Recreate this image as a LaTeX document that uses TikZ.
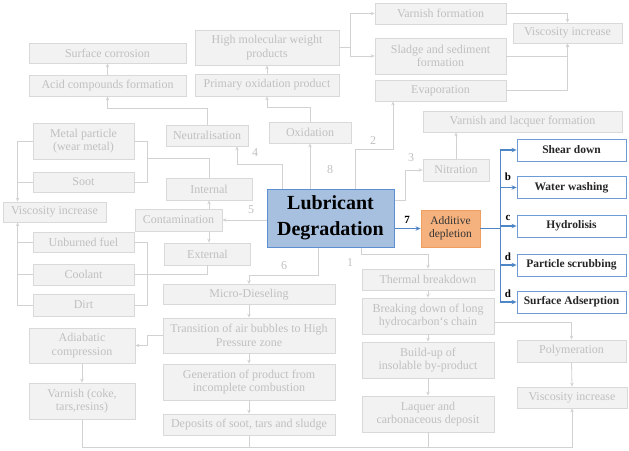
\documentclass[tikz,border=0pt]{standalone}
\usepackage{fontspec}
\setmainfont{LiberationSerif}[Extension=.ttf,UprightFont=*-Regular,BoldFont=*-Bold,ItalicFont=*-Italic,BoldItalicFont=*-BoldItalic]
\usetikzlibrary{arrows.meta}
\definecolor{gfill}{HTML}{F2F2F2}
\definecolor{gdraw}{HTML}{D9D9D9}
\definecolor{gtext}{HTML}{C0C0C0}
\definecolor{lgrey}{HTML}{D2D2D2}
\definecolor{mainfill}{HTML}{A7C0E0}
\definecolor{maindraw}{HTML}{5B8FD0}
\definecolor{addfill}{HTML}{F5B27F}
\definecolor{adddraw}{HTML}{EE9E5E}
\definecolor{bblue}{HTML}{6E9BD3}
\definecolor{ablue}{HTML}{4F86C6}
\begin{document}
\begin{tikzpicture}[x=1pt,y=-1pt,
  gbox/.style={draw=gdraw,fill=gfill,text=gtext,align=center,inner sep=1pt,line width=0.8pt,font=\fontsize{12}{13.5}\selectfont},
  bbox/.style={draw=bblue,fill=white,text=black!85,align=center,inner sep=1pt,line width=0.9pt,minimum width=109,minimum height=22,font=\fontsize{11.5}{13}\selectfont\bfseries},
  gline/.style={draw=lgrey,line width=0.8pt},
  garrow/.style={gline,-{Stealth[length=4pt,width=3.5pt]}},
  barrow/.style={draw=ablue,line width=1.3pt,-{Stealth[length=5pt,width=4.5pt]}},
  glabel/.style={text=gtext,font=\fontsize{12}{13}\selectfont},
  blabel/.style={text=black,font=\fontsize{11}{12}\selectfont\bfseries}]
\useasboundingbox (0,0) rectangle (629,450);
\node[gbox,minimum width=157,minimum height=20] (surf) at (107.5,53) {Surface corrosion};
\node[gbox,minimum width=157,minimum height=21] (acid) at (107.5,85.5) {Acid compounds formation};
\node[gbox,minimum width=144,minimum height=35] (hmw) at (267,47.5) {High molecular weight\\products};
\node[gbox,minimum width=144,minimum height=22] (prim) at (267,85) {Primary oxidation product};
\node[gbox,minimum width=82,minimum height=21] (neu) at (207,135.5) {Neutralisation};
\node[gbox,minimum width=82,minimum height=21] (oxi) at (310,132.5) {Oxidation};
\node[gbox,minimum width=131,minimum height=21] (varf) at (440.5,13.5) {Varnish formation};
\node[gbox,minimum width=131,minimum height=36] (sludge) at (440.5,56) {Sladge and sediment\\formation};
\node[gbox,minimum width=131,minimum height=21] (evap) at (440.5,90.5) {Evaporation};
\node[gbox,minimum width=109,minimum height=20] (visc1) at (567.5,33) {Viscosity increase};
\node[gbox,minimum width=199,minimum height=21] (vlf) at (522.5,121.5) {Varnish and lacquer formation};
\node[gbox,minimum width=66,minimum height=22] (nitr) at (456,170) {Nitration};
\node[draw=maindraw,fill=mainfill,line width=1pt,align=center,inner sep=1pt,minimum width=127,minimum height=58,font=\fontsize{20}{26}\selectfont\bfseries] (main) at (330.5,218) {Lubricant\\Degradation};
\node[draw=adddraw,fill=addfill,line width=0.9pt,align=center,inner sep=1pt,minimum width=59,minimum height=37,text=black!80,font=\fontsize{11.5}{13}\selectfont] (add) at (450.5,228.5) {Additive\\depletion};
\node[bbox] (shear) at (571.5,150) {Shear down};
\node[bbox] (wash) at (571.5,187.5) {Water washing};
\node[bbox] (hydro) at (571.5,226) {Hydrolisis};
\node[bbox] (scrub) at (571.5,265) {Particle scrubbing};
\node[bbox] (adsorp) at (571.5,302) {Surface Adserption};
\node[gbox,minimum width=101,minimum height=36] (metal) at (83.5,141) {Metal particle\\(wear metal)};
\node[gbox,minimum width=101,minimum height=20] (soot) at (83.5,182) {Soot};
\node[gbox,minimum width=103,minimum height=20] (visc2) at (54.5,212) {Viscosity increase};
\node[gbox,minimum width=101,minimum height=20] (unb) at (83.5,242) {Unburned fuel};
\node[gbox,minimum width=101,minimum height=21] (cool) at (83.5,274.5) {Coolant};
\node[gbox,minimum width=101,minimum height=22] (dirt) at (83.5,305) {Dirt};
\node[gbox,minimum width=86,minimum height=22] (int) at (209,189) {Internal};
\node[gbox,minimum width=87,minimum height=22] (cont) at (178.5,220) {Contamination};
\node[gbox,minimum width=86,minimum height=22] (ext) at (207.5,254) {External};
\node[gbox,minimum width=172,minimum height=20] (micro) at (249,294.5) {Micro-Dieseling};
\node[gbox,minimum width=172,minimum height=35] (trans) at (249,335.5) {Transition of air bubbles to High\\Pressure zone};
\node[gbox,minimum width=172,minimum height=36] (gen) at (249,382) {Generation of product from\\incomplete combustion};
\node[gbox,minimum width=172,minimum height=21] (dep) at (249,424.5) {Deposits of soot, tars and sludge};
\node[gbox,minimum width=106,minimum height=35] (adia) at (82,345.5) {Adiabatic\\compression};
\node[gbox,minimum width=106,minimum height=36] (varn) at (82,401) {Varnish (coke,\\tars,resins)};
\node[gbox,minimum width=132,minimum height=21] (therm) at (428,279.5) {Thermal breakdown};
\node[gbox,minimum width=132,minimum height=36] (brk) at (428,316) {Breaking down of long\\hydrocarbon`s chain};
\node[gbox,minimum width=132,minimum height=36] (build) at (428,360) {Build-up of\\insolable by-product};
\node[gbox,minimum width=132,minimum height=36] (laq) at (428,414) {Laquer and\\carbonaceous deposit};
\node[gbox,minimum width=109,minimum height=22] (poly) at (571.5,351) {Polymeration};
\node[gbox,minimum width=110,minimum height=21] (visc3) at (572,397.5) {Viscosity increase};
\draw[garrow] (neu.north) -- ++(0,-16.5) -| (acid.south);
\draw[garrow] (acid.north) -- (surf.south);
\draw[garrow] (prim.north) -- (hmw.south);
\draw[garrow] (oxi.north) -- ++(0,-14) -| (prim.south);
\draw[garrow] (hmw.east) -- ++(11,0) |- (varf.west);
\draw[garrow] (hmw.east) -- ++(11,0) |- (sludge.west);
\draw[garrow] (varf.east) -| (visc1.north);
\draw[garrow] (sludge.east) -| (visc1.south);
\draw[garrow] (evap.east) -| (visc1.south);
\draw[garrow] (nitr.north) -- (nitr.north |- vlf.south);
\draw[garrow] ([xshift=16]main.north west) -- ++(0,-24) -| ([xshift=30]neu.south);
\draw[garrow] (oxi.south |- main.north) -- (oxi.south);
\draw[garrow] ([xshift=24.5]main.north) -- ++(0,-39) -| ([xshift=-47.5]evap.south);
\draw[garrow] ([yshift=18]main.east) -- ++(11,0) |- (nitr.west);
\draw[garrow] (main.west |- cont.east) -- (cont.east);
\draw[garrow] ([xshift=30.5]main.south) -- ++(0,7) -| (therm.north);
\draw[garrow] ([xshift=-12.5]main.south) -- ++(0,28) -| (micro.north);
\draw[barrow] (main.east |- add.west) -- (add.west);
\foreach \t in {shear,wash,hydro,scrub,adsorp}
  \draw[barrow] (add.east) -- ++(20,0) |- (\t.west);
\draw[garrow] ([xshift=30.5]cont.north) -- ([xshift=30.5]cont.north |- int.south);
\draw[garrow] ([xshift=30.5]cont.south) -- ([xshift=30.5]cont.south |- ext.north);
\draw[gline] (int.north) -- ++(0,-19) -| ([xshift=13]soot.east);
\draw[gline] (metal.east) -| ([xshift=13]soot.east) -- (soot.east);
\draw[gline] (ext.south) |- (cool.east);
\draw[gline] (unb.east) -| ([xshift=13]dirt.east) -- (dirt.east);
\draw[gline] (metal.west) -- ++(-15,0) |- (soot.west);
\draw[garrow] ([xshift=-15]soot.west) -- ([xshift=-15]soot.west |- visc2.north);
\draw[gline] (dirt.west) -- ++(-15,0) |- (unb.west);
\draw[gline] (cool.west) -- ++(-15,0);
\draw[garrow] ([xshift=-15]unb.west) -- ([xshift=-15]unb.west |- visc2.south);
\draw[garrow] (micro.south) -- (trans.north);
\draw[garrow] (trans.south) -- (gen.north);
\draw[garrow] (gen.south) -- (dep.north);
\draw[garrow] (trans.west) -- ++(-15,0) |- (adia.east);
\draw[garrow] (adia.south) -- (varn.north);
\draw[garrow] (varn.south) -- ++(0,28) -| (visc3.south);
\draw[gline] (dep.south) -- ++(0,12.5);
\draw[gline] (laq.south) -- ++(0,15);
\draw[garrow] (therm.south) -- (brk.north);
\draw[garrow] (brk.south) -- (build.north);
\draw[garrow] (build.south) -- (laq.north);
\draw[garrow] ([yshift=-6]brk.east) -| (poly.north);
\draw[garrow] (poly.south) -- (visc3.north);
\node[glabel] (l1) at (350,263) {1};
\node[glabel] (l2) at (373,141) {2};
\node[glabel] (l3) at (411,158) {3};
\node[glabel] (l4) at (255,153) {4};
\node[glabel] (l5) at (251,210) {5};
\node[glabel] (l6) at (284,266) {6};
\node[glabel] (l8) at (330,170) {8};
\node[blabel] (l7) at (407,220) {7};
\node[blabel] (lb) at (508,177) {b};
\node[blabel] (lc) at (508,218) {c};
\node[blabel] (ld1) at (508,257) {d};
\node[blabel] (ld2) at (508,294) {d};
\end{tikzpicture}
\end{document}
